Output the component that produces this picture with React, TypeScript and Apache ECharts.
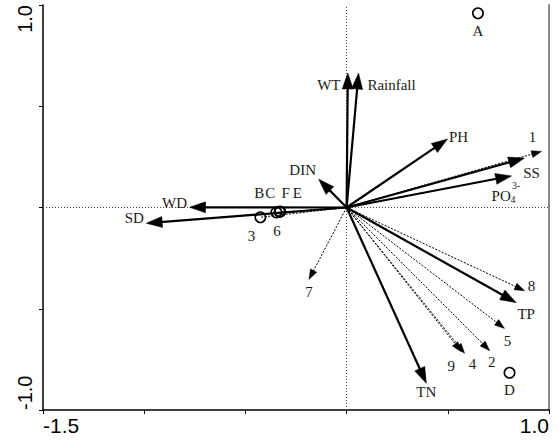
import React, { useEffect, useRef } from "react";
import * as echarts from "echarts";

// Environmental variables (solid arrows)
const envNames = ["WT", "Rainfall", "PH", "SS", "PO4", "DIN", "WD", "SD", "TP", "TN"];
const envX = [0.006, 0.059, 0.499, 0.879, 0.815, -0.138, -0.776, -0.99, 0.838, 0.394];
const envY = [0.664, 0.664, 0.338, 0.244, 0.156, 0.14, 0.001, -0.078, -0.47, -0.868];

// Species (dotted arrows)
const speciesNames = ["1", "2", "3", "4", "5", "6", "7", "8", "9"];
const speciesX = [0.963, 0.707, -0.426, 0.583, 0.78, -0.344, -0.186, 0.879, 0.567];
const speciesY = [0.277, -0.707, -0.048, -0.72, -0.597, -0.024, -0.355, -0.411, -0.712];
const speciesNoHead = ["3", "6"];

// Samples (open circles)
const sampleNames = ["A", "B", "C", "D", "E", "F"];
const sampleX = [0.649, -0.426, -0.347, 0.805, -0.328, -0.331];
const sampleY = [0.959, -0.048, -0.024, -0.816, -0.02, -0.021];

// Tick labels
const xTickValues = [-1.5, 1.0];
const xTickLabels = ["-1.5", "1.0"];
const yTickValues = [-1.0, 1.0];
const yTickLabels = ["-1.0", "1.0"];

// Label offsets in pixels (style)
const envLabelOffset: Record<string, [number, number]> = {
  WT: [-19, 12],
  Rainfall: [33, 12],
  PH: [11, -2],
  SS: [7, 15],
  PO4: [-20, 20],
  DIN: [-16, -9],
  WD: [-15, -4],
  SD: [-12, -5],
  TP: [10, 11],
  TN: [0, 9],
};
const speciesLabelOffset: Record<string, [number, number]> = {
  "1": [-9, -14],
  "2": [2, 11],
  "3": [-9, 19],
  "4": [8, 11],
  "5": [3, 13],
  "6": [0, 19],
  "7": [0, 13],
  "8": [7, -5],
  "9": [-10, 14],
};
const sampleLabelOffset: Record<string, [number, number]> = {
  A: [0, 18],
  B: [-1, -24],
  C: [-6, -19],
  D: [0, 17],
  E: [17, -18.5],
  F: [6, -18.5],
};

const SERIF = "'Liberation Serif', 'Times New Roman', serif";
const SANS = "'Liberation Sans', Arial, sans-serif";
const LABEL_COLOR = "#221a1a";

function labelText(text: string, x: number, y: number, size = 15, align = "center") {
  return {
    type: "text",
    style: {
      text,
      x,
      y,
      align,
      verticalAlign: "middle",
      fontSize: size,
      fontFamily: SERIF,
      fill: LABEL_COLOR,
    },
  };
}

function makeArrowRender(
  names: string[],
  offsets: Record<string, [number, number]>,
  opts: { width: number; dash: number[] | null; headLen: number; headHalf: number; noHead?: string[] }
) {
  return (params: any, api: any) => {
    const i = params.dataIndex;
    const name = names[i];
    const o = api.coord([0, 0]);
    const p = api.coord([api.value(0), api.value(1)]);
    const dx = p[0] - o[0];
    const dy = p[1] - o[1];
    const len = Math.hypot(dx, dy) || 1;
    const ux = dx / len;
    const uy = dy / len;
    const hasHead = !(opts.noHead && opts.noHead.includes(name));
    const hl = hasHead ? opts.headLen : 0;
    const hw = opts.headHalf;
    const bx = p[0] - ux * hl;
    const by = p[1] - uy * hl;
    const children: any[] = [
      {
        type: "line",
        shape: {
          x1: o[0],
          y1: o[1],
          x2: hasHead ? bx + ux * 2 : p[0],
          y2: hasHead ? by + uy * 2 : p[1],
        },
        style: {
          stroke: "#000",
          lineWidth: opts.width,
          lineDash: opts.dash || undefined,
        },
      },
    ];
    if (hasHead) {
      children.push({
        type: "polygon",
        shape: {
          points: [
            [p[0], p[1]],
            [bx - uy * hw, by + ux * hw],
            [bx + uy * hw, by - ux * hw],
          ],
        },
        style: { fill: "#000", stroke: "#000", lineWidth: 0.5 },
      });
    }
    const off = offsets[name] || [0, 0];
    const lx = p[0] + off[0];
    const ly = p[1] + off[1];
    if (name === "PO4") {
      children.push(labelText("PO", lx, ly, 15, "left"));
      children.push(labelText("4", lx + 19, ly + 4, 10, "left"));
      children.push(labelText("3-", lx + 20.5, ly - 10, 10, "left"));
    } else {
      children.push(labelText(name, lx, ly));
    }
    return { type: "group", children };
  };
}

function sampleRender(params: any, api: any) {
  const name = sampleNames[params.dataIndex];
  const p = api.coord([api.value(0), api.value(1)]);
  const off = sampleLabelOffset[name] || [0, 0];
  return {
    type: "group",
    children: [
      {
        type: "circle",
        shape: { cx: p[0], cy: p[1], r: 5.2 },
        style: { fill: "none", stroke: "#000", lineWidth: 1.6 },
      },
      labelText(name, p[0] + off[0], p[1] + off[1]),
    ],
  };
}

export default function App() {
  const ref = useRef<HTMLDivElement>(null);
  useEffect(() => {
    if (!ref.current) return;
    const chart = echarts.init(ref.current, undefined, { renderer: "svg" });
    const xFmt = (v: number) => {
      const k = xTickValues.findIndex((t) => Math.abs(t - v) < 1e-9);
      return k >= 0 ? xTickLabels[k] : "";
    };
    const yFmt = (v: number) => {
      const k = yTickValues.findIndex((t) => Math.abs(t - v) < 1e-9);
      return k >= 0 ? yTickLabels[k] : "";
    };
    chart.setOption({
      animation: false,
      backgroundColor: "#fff",
      grid: { left: 43, right: 9, top: 5, bottom: 33, containLabel: false },
      xAxis: {
        type: "value",
        min: -1.5,
        max: 1.0,
        interval: 0.5,
        axisLine: { show: true, onZero: false, lineStyle: { color: "#000", width: 1.5 } },
        axisTick: { show: true, length: 4, lineStyle: { color: "#000", width: 1 } },
        axisLabel: {
          formatter: xFmt,
          fontSize: 21,
          color: "#000",
          fontFamily: SANS,
          margin: 5,
          alignMinLabel: "left",
          alignMaxLabel: "right",
          showMinLabel: true,
          showMaxLabel: true,
          hideOverlap: false,
        },
        splitLine: { show: false },
      },
      yAxis: [
        {
          type: "value",
          min: -1,
          max: 1,
          interval: 0.5,
          position: "left",
          axisLine: { show: true, onZero: false, lineStyle: { color: "#000", width: 1.5 } },
          axisTick: { show: true, length: 4, lineStyle: { color: "#000", width: 1 } },
          axisLabel: {
            formatter: yFmt,
            rotate: 90,
            fontSize: 20,
            color: "#000",
            fontFamily: SANS,
            margin: 8,
            alignMinLabel: "left",
            alignMaxLabel: "right",
            showMinLabel: true,
            showMaxLabel: true,
            hideOverlap: false,
          },
          splitLine: { show: false },
        },
        {
          type: "value",
          min: -1,
          max: 1,
          position: "right",
          axisLine: { show: true, onZero: false, lineStyle: { color: "#8a8a8a", width: 2 } },
          axisTick: { show: false },
          axisLabel: { show: false },
          splitLine: { show: false },
        },
      ],
      series: [
        {
          type: "scatter",
          name: "zero",
          data: [],
          silent: true,
          markLine: {
            silent: true,
            symbol: "none",
            label: { show: false },
            lineStyle: { color: "#444", width: 1, type: [1, 2] },
            data: [{ xAxis: 0 }, { yAxis: 0 }],
            z: 1,
          },
        },
        {
          type: "custom",
          name: "samples",
          clip: false,
          data: sampleNames.map((n, i) => [sampleX[i], sampleY[i]]),
          renderItem: sampleRender,
          z: 3,
        },
        {
          type: "custom",
          name: "species",
          clip: false,
          data: speciesNames.map((n, i) => [speciesX[i], speciesY[i]]),
          renderItem: makeArrowRender(speciesNames, speciesLabelOffset, {
            width: 1,
            dash: [2, 1.5],
            headLen: 10,
            headHalf: 3.5,
            noHead: speciesNoHead,
          }),
          z: 2,
        },
        {
          type: "custom",
          name: "env",
          clip: false,
          data: envNames.map((n, i) => [envX[i], envY[i]]),
          renderItem: makeArrowRender(envNames, envLabelOffset, {
            width: 2.2,
            dash: null,
            headLen: 16,
            headHalf: 5.5,
          }),
          z: 4,
        },
      ],
    });
    return () => chart.dispose();
  }, []);
  return (
    <div
      ref={ref}
      style={{ position: "fixed", left: 0, top: 0, width: 558, height: 443, background: "#fff" }}
    />
  );
}
